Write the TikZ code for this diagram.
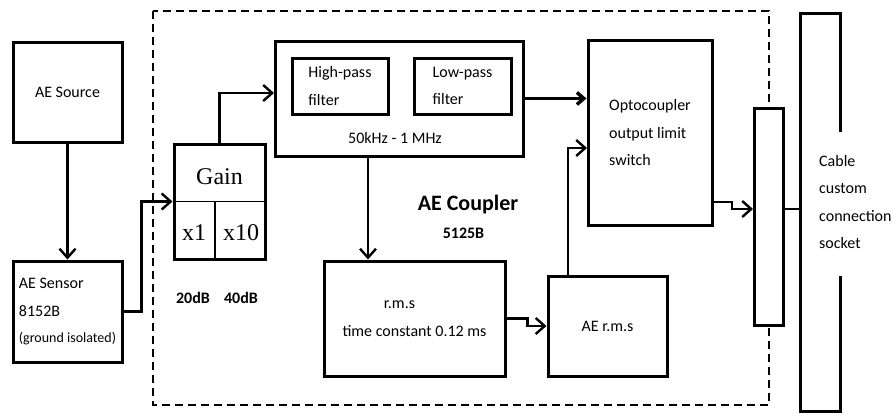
\documentclass[tikz,border=0pt]{standalone}
\usepackage{fontspec}
\setmainfont{Carlito}
\newfontfamily\gainfont{Liberation Serif}
\usetikzlibrary{arrows.meta}
\tikzset{
    blk/.style={draw, line width=3pt, fill=white, inner sep=0pt,
        font=\fontsize{16pt}{27.5pt}\selectfont},
    lbl/.style={inner sep=0pt, font=\fontsize{16pt}{27.5pt}\selectfont},
    conn/.style={line width=2.4pt, -{Straight Barb[length=9pt,width=16pt]}},
    dashbox/.style={line width=2.2pt, dash pattern=on 8pt off 5pt},
    gaindiv/.style={line width=1.8pt},
}
\begin{document}
\begin{tikzpicture}[x=1pt, y=-1pt]
    \useasboundingbox (0,0) rectangle (892,413);
    % AE Coupler frame
    \draw[dashbox] (153,11) rectangle (769,405);

    % Sensor side
    \node[blk, minimum width=109, minimum height=100] (src) at (67.5,92) {AE Source};
    \node[blk, minimum width=109, minimum height=101, align=left] (sens) at (67.5,311.5)
        {AE Sensor\\8152B\\[-1.5pt]{\fontsize{14pt}{26pt}\selectfont (ground isolated)}};

    % Gain block
    \node[blk, minimum width=91, minimum height=115] (gain) at (219.5,201.5) {};
    \node[lbl, font=\gainfont\fontsize{24pt}{28pt}\selectfont] (gaintxt) at (219.5,177) {Gain};
    \node[lbl, font=\gainfont\fontsize{24pt}{28pt}\selectfont] (x1) at (194,233) {x1};
    \node[lbl, font=\gainfont\fontsize{24pt}{28pt}\selectfont] (x10) at (241,233) {x10};
    \draw[gaindiv] (gain.west) -- (gain.east);
    \draw[gaindiv] ([xshift=-4.5pt]gain.center) -- ([xshift=-4.5pt]gain.south);
    \node[lbl, font=\fontsize{16pt}{20pt}\selectfont\bfseries] (db20) at (193,298) {20dB};
    \node[lbl, font=\fontsize{16pt}{20pt}\selectfont\bfseries] (db40) at (241,298) {40dB};

    % Filters
    \node[blk, minimum width=248, minimum height=115] (filt) at (399,98.5) {};
    \node[blk, minimum width=96, minimum height=56, align=left] (hp) at (340,86) {High-pass\\filter};
    \node[blk, minimum width=97, minimum height=56, align=left] (lp) at (462.5,86) {Low-pass\\filter};
    \node[lbl] (band) at (395,138) {50kHz - 1 MHz};

    % r.m.s path
    \node[blk, minimum width=181, minimum height=115, align=center] (rms) at (414.5,318.5)
        {r.m.s\hspace*{30pt}\\time constant 0.12 ms};
    \node[blk, minimum width=119, minimum height=100] (aerms) at (607.5,326) {AE r.m.s};
    \node[lbl, font=\fontsize{22pt}{26pt}\selectfont\bfseries] (coupler) at (468,205) {AE Coupler};
    \node[lbl, font=\fontsize{16pt}{20pt}\selectfont\bfseries] (model) at (463.5,233) {5125B};

    % Output side
    \node[blk, minimum width=124, minimum height=185, align=left] (opto) at (650,132.5)
        {Optocoupler\\output limit\\switch};
    \node[blk, minimum width=29, minimum height=217] (sock) at (768.5,216.5) {};
    \draw[line width=3pt] (840,132) |- (800,13) |- (840,411) -- (840,276);
    \node[lbl, anchor=west, align=left] (cable) at (819,202) {Cable\\custom\\connection\\socket};

    \coordinate (filtin) at (274,93);
    \coordinate (tap) at (368,157);
    \coordinate (aeup) at (568,275);
    \coordinate (optoin) at (587,148);
    \coordinate (optoout) at (713,202);
    \coordinate (sockin) at (753,209);
    \coordinate (cablein) at (800,209);

    % Connectors
    \draw[conn] (src) -- (sens);
    \draw[conn] (sens.east) -- ++(18,0) |- (gain.west);
    \draw[conn] (gain.north) |- (filtin);
    \draw[conn, line width=3.4pt, -{Straight Barb[length=7pt,width=12pt]}] (filt.east) -- (filt.east -| opto.west);
    \draw[conn] (tap) -- (tap |- rms.north);
    \draw[conn] (rms.east) -- ++(21,0) |- (aerms.west);
    \draw[conn] (aeup) |- (optoin);
    \draw[conn] (optoout) -- ++(19,0) |- (sockin);
    \draw[line width=2.4pt] (sock.east |- sockin) -- (cablein);
\end{tikzpicture}
\end{document}
